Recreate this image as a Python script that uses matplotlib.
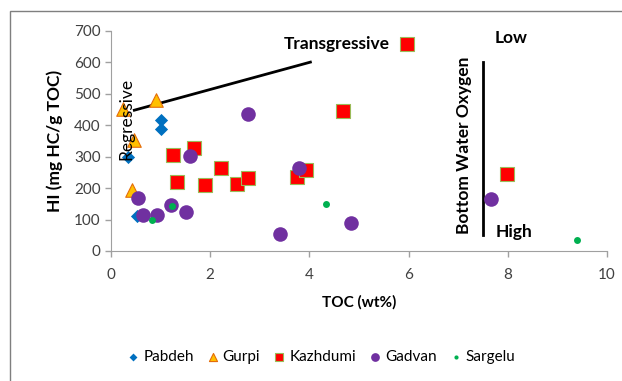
import matplotlib.pyplot as plt
from matplotlib.patches import Rectangle

plt.rcParams['font.family'] = ['Lato', 'DejaVu Sans']

# data (TOC wt%, HI mg HC/g TOC)
pabdeh_toc = [1.00, 1.00, 0.35, 0.52]
pabdeh_hi = [418, 389, 299, 110]

gurpi_toc = [0.25, 0.91, 0.47, 0.43]
gurpi_hi = [453, 482, 352, 193]

kazhdumi_toc = [1.24, 1.68, 1.33, 1.89, 2.22, 2.55, 2.76, 3.76, 3.93, 4.67, 5.96, 7.98]
kazhdumi_hi = [307, 328, 221, 210, 265, 212, 231, 235, 257, 445, 658, 246]

gadvan_toc = [2.76, 1.60, 3.80, 0.55, 0.65, 0.93, 1.21, 1.52, 3.40, 4.84, 7.66]
gadvan_hi = [435, 302, 265, 169, 113, 113, 145, 124, 55, 88, 164]

sargelu_toc = [1.23, 0.82, 4.34, 9.39]
sargelu_hi = [142, 100, 148, 36]

# trend lines
trans_x = [0.47, 4.02]
trans_y = [448, 601]
oxy_x = [7.5, 7.5]
oxy_y = [50, 600]

fig = plt.figure(figsize=(6.22, 3.81), dpi=100)
W, H = 622, 381
ax = fig.add_axes([111 / W, 1 - 251 / H, (607 - 111) / W, (251 - 31) / H])

# chart area border (Excel style)
fig.patches.append(Rectangle((10 / W, -0.1), 1.2, 1 - 11 / H + 0.1,
                             transform=fig.transFigure, fill=False,
                             ec='#7f7f7f', lw=1.0))

ax.scatter(pabdeh_toc, pabdeh_hi, marker='D', s=45, c='#0070C0', lw=0,
           label='Pabdeh', zorder=3)
ax.scatter(gurpi_toc, gurpi_hi, marker='^', s=95, c='#FFC000',
           edgecolors='#E46C0A', lw=0.8, label='Gurpi', zorder=3)
ax.scatter(kazhdumi_toc, kazhdumi_hi, marker='s', s=95, c='#FF0000',
           edgecolors='#9BBB59', lw=0.8, label='Kazhdumi', zorder=3)
ax.scatter(gadvan_toc, gadvan_hi, marker='o', s=110, c='#7030A0', lw=0,
           label='Gadvan', zorder=3)
ax.scatter(sargelu_toc, sargelu_hi, marker='o', s=25, c='#00B050', lw=0,
           label='Sargelu', zorder=3)

ax.plot(trans_x, trans_y, color='black', lw=2, zorder=2)
ax.plot(oxy_x, oxy_y, color='black', lw=2, zorder=2)

ax.text(0.32, 420, 'Regressive', rotation=90, ha='center', va='center',
        fontsize=12.5, zorder=4)
ax.text(5.63, 658, 'Transgressive', ha='right', va='center', fontsize=12.5,
        fontweight='bold')
ax.text(7.12, 336, 'Bottom Water Oxygen', rotation=90, ha='center',
        va='center', fontsize=12.5, fontweight='bold')
ax.text(8.06, 677, 'Low', ha='center', va='center', fontsize=12.5,
        fontweight='bold')
ax.text(8.12, 60, 'High', ha='center', va='center', fontsize=12.5,
        fontweight='bold')

ax.set_xlim(0, 10)
ax.set_ylim(0, 700)
ax.set_xticks(range(0, 11, 2))
ax.set_yticks(range(0, 701, 100))
for side in ['top', 'right']:
    ax.spines[side].set_visible(False)
for side in ['left', 'bottom']:
    ax.spines[side].set_color('#a0a0a0')
ax.tick_params(colors='#a0a0a0', labelcolor='#404040', labelsize=11,
               length=4, width=1)
ax.tick_params(axis='x', pad=8)

ax.set_xlabel('TOC (wt%)', fontsize=11, fontweight='bold', labelpad=10)
ax.set_ylabel('HI (mg HC/g TOC)', fontsize=12.5, fontweight='bold', labelpad=8)

leg = ax.legend(loc='center', bbox_to_anchor=(0.42, -0.48), ncol=5,
                frameon=False, fontsize=11, handletextpad=0.0,
                columnspacing=0.6, handlelength=1.3, markerscale=0.6)

fig.savefig('out.png', dpi=100)
